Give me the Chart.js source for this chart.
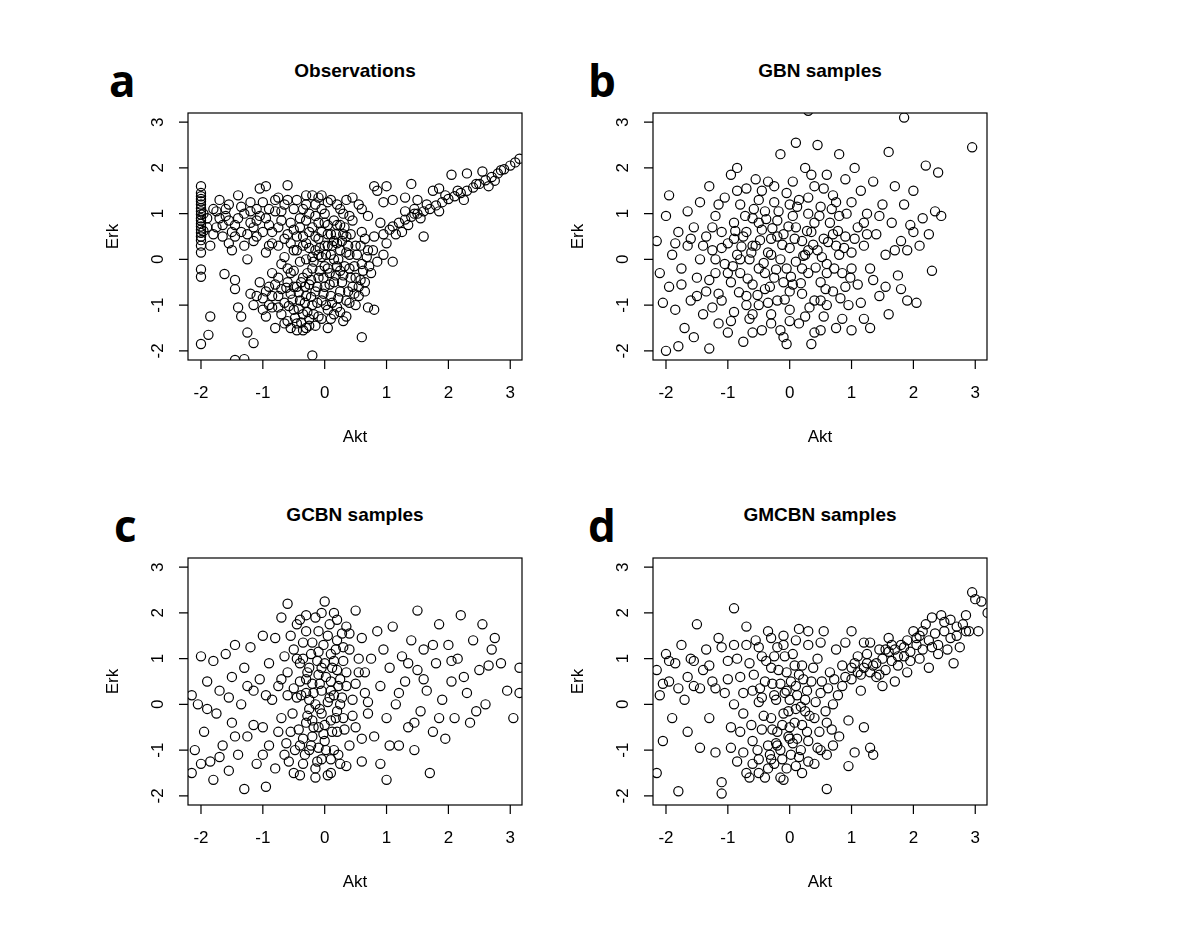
<!DOCTYPE html>
<html>
<head>
<meta charset="utf-8">
<script src="https://cdn.jsdelivr.net/npm/chart.js@4.4.1/dist/chart.umd.min.js"></script>
<style>
body { margin: 0; background: #fff; width: 1200px; height: 935px; position: relative; font-family: 'Liberation Sans', Arial, sans-serif; }
.panel { position: absolute; width: 440px; height: 420px; }
.letter { position: absolute; font-family: 'Open Sans', 'DejaVu Sans', sans-serif; font-weight: 700; font-size: 44px; line-height: 44px; }
.ttl { position: absolute; width: 334px; text-align: center; font-weight: 700; font-size: 19px; }
</style>
</head>
<body>
<div class="letter" style="left:109px;top:58px">a</div>
<div class="letter" style="left:588px;top:58px">b</div>
<div class="letter" style="left:114px;top:503px">c</div>
<div class="letter" style="left:588px;top:503px">d</div>
<div class="ttl" style="left:188px;top:60px">Observations</div>
<div class="ttl" style="left:653px;top:60px">GBN samples</div>
<div class="ttl" style="left:188px;top:504px">GCBN samples</div>
<div class="ttl" style="left:653px;top:504px">GMCBN samples</div>
<div class="panel" style="left:100px;top:50px"><canvas id="chartA"></canvas></div>
<div class="panel" style="left:565px;top:50px"><canvas id="chartB"></canvas></div>
<div class="panel" style="left:100px;top:495px"><canvas id="chartC"></canvas></div>
<div class="panel" style="left:565px;top:495px"><canvas id="chartD"></canvas></div>
<script>
const tickValues = [-2, -1, 0, 1, 2, 3];
const xLabel = 'Akt';
const yLabel = 'Erk';

// Observations (Akt, Erk)
const obsPoints = [
  [-2,1.6],[-2,1.45],[-2,1.38],[-2,1.32],[-2,1.27],[-2,1.2],[-2,1.12],[-2,1.05],[-2,0.98],[-2,0.9],[-2,0.85],[-2,0.78],[-2,0.72],[-2,0.65],[-2,0.58],[-2,0.5],[-2,0.42],[-2,0.3],[-2,0.15],[-2,-0.22],[-2,-0.38],[-2,-1.85],[-1.96,1.0],[-1.96,0.62],
  [-1.85,-1.25],[-1.88,-1.65],[-1.45,-2.2],[-1.3,-2.18],[-1.15,-1.83],[-1.25,-1.6],[-0.2,-2.1],[0.6,-1.7],[0.8,-1.1],[0.7,-1.05],[0.3,-1.35],[0.05,-1.5],[-1.62,-0.32],[-1.45,-0.45],[-1.45,-0.65],[-1.4,-1.05],[-1.35,-1.25],
  [-1.9,0.9],[-1.85,0.3],[-1.8,1.1],[-1.75,0.7],[-1.7,1.3],[-1.65,0.5],[-1.6,0.95],[-1.55,1.2],[-1.5,0.2],[-1.45,0.75],[-1.4,1.4],[-1.35,0.6],[-1.3,1.0],[-1.25,0.0],[-1.2,1.25],[-1.15,0.4],[-1.1,0.85],[-1.05,1.55],[-0.95,1.6],[-1.0,0.6],[-0.95,0.15],[-0.9,1.1],[-0.85,0.35],[-0.8,1.3],[-0.75,0.7],[-0.7,1.05],[-0.65,0.45],[-0.6,1.62],[-0.6,1.3],[-1.6,1.1],[-1.5,0.6],[-1.3,0.3],[-1.2,0.8],[-1.1,1.1],[-0.95,0.9],[-1.4,0.9],[-1.7,0.9],[-1.55,0.35],[-1.25,0.55],
  [-1.2,-0.75],[-1.15,-1.0],[-1.05,-0.5],[-1.0,-0.85],[-0.95,-1.25],[-0.9,-0.6],[-0.85,-1.05],[-0.85,-0.3],[-0.8,-1.5],[-0.75,-0.8],[-0.7,-1.2],[-0.7,-0.1],[-0.65,-0.95],[-0.6,-1.35],[-0.6,-0.5],[-0.55,-1.5],[-0.55,-0.75],[-0.5,-1.1],[-0.5,-0.25],[-0.5,0.2],[-0.45,-1.4],[-0.45,-0.6],[-0.45,0.5],[-0.4,-0.9],[-0.4,-0.05],[-0.4,0.9],[-0.35,-1.55],[-0.35,-1.2],[-0.35,-0.4],[-0.35,0.3],[-0.3,-0.8],[-0.3,0.0],[-0.3,1.2],[-0.25,-1.3],[-0.25,-0.55],[-0.25,0.6],[-0.2,-1.0],[-0.2,-0.2],[-0.2,1.4],[-0.15,-0.7],[-0.15,0.2],[-0.15,0.95],[-0.1,-1.25],[-0.1,-0.4],[-0.1,0.45],[-0.05,-0.9],[-0.05,0.05],[-0.05,1.1],[0,-0.6],[0,0.3],[0,0.8],[0.05,-1.1],[0.05,-0.2],[0.05,0.55],[0.1,-0.8],[0.1,0.1],[0.1,1.3],[0.15,-0.5],[0.15,0.4],[0.2,-1.05],[0.2,-0.15],[0.2,0.75],[0.25,-0.7],[0.25,0.2],[0.3,-0.35],[0.3,1.0],[0.35,-0.9],[0.35,0.5],[0.4,-0.2],[0.4,0.1],[0.45,-0.6],[0.45,0.85],[0.5,-0.4],[0.5,0.3],[0.55,-0.8],[0.55,1.2],[0.6,-0.1],[0.6,0.6],[0.65,-0.5],[0.7,0.2],[0.7,0.95],[0.75,-0.3],[0.8,0.5],[0.85,-0.05],[0.9,0.8],[0.95,0.1],[0.8,1.6],[0.85,1.5],[1.0,1.6],[0.95,1.25],[1.1,1.3],[1.3,1.35],[1.4,1.65],[1.5,1.3],[1.45,1.1],[1.6,0.5],[1.3,1.05],[0.45,1.35],[0.2,1.2],[-0.1,1.35],[0.6,1.1],[1.0,0.35],[1.1,-0.05],[-0.55,0.8],[-0.5,1.1],[-0.25,-1.45],[-0.05,-1.3],[0.15,-1.2],[-0.6,-0.2],[0.35,-1.25],[0.5,-1.0],
  [0.95,0.55],[1.05,0.65],[1.1,0.72],[1.2,0.8],[1.3,0.87],[1.4,0.93],[1.5,1.0],[1.6,1.05],[1.7,1.1],[1.8,1.18],[1.9,1.25],[2.0,1.32],[2.1,1.38],[2.2,1.45],[2.3,1.5],[2.4,1.57],[2.5,1.65],[2.6,1.73],[2.7,1.8],[2.8,1.88],[2.9,1.97],[3.0,2.05],[3.08,2.12],[3.15,2.2],[1.25,0.6],[1.45,1.0],[1.65,1.2],[1.85,1.05],[1.75,1.5],[1.85,1.55],[2.05,1.85],[2.3,1.88],[2.25,1.3],[2.45,1.65],[2.65,1.6],[2.75,1.72],[2.55,1.92],[1.15,0.55],[1.35,0.75],[1.55,0.9],[1.95,1.4],[2.15,1.5],[2.85,1.95]
];
// denser core of the observations
const obsCore = [
  [-0.62,-0.62],[-0.58,-1.02],[-0.52,-0.88],[-0.48,-1.28],[-0.42,-0.72],[-0.42,-1.08],[-0.38,-0.5],[-0.38,-1.38],[-0.32,-0.95],[-0.32,-0.6],[-0.28,-1.15],[-0.28,-0.3],[-0.22,-0.82],[-0.22,-0.45],[-0.18,-1.2],[-0.18,-0.05],[-0.12,-0.6],[-0.12,-0.95],[-0.08,-0.25],[-0.08,0.25],[-0.02,-0.75],[-0.02,-0.4],[0.02,-1.0],[0.02,0.1],[0.08,-0.55],[0.08,-0.3],[0.12,0.3],[0.12,-0.95],[0.18,-0.35],[0.18,0.55],[0.22,-0.85],[0.22,0.0],[0.28,-0.5],[0.28,0.4],[0.32,-0.15],[0.32,0.7],[0.38,-0.7],[0.38,0.3],[0.42,-0.4],[0.42,0.55],[0.48,-0.15],[0.48,-0.75],[0.52,0.1],[0.58,-0.45],[0.58,0.3],[0.62,-0.25],[0.65,0.45],[0.68,0.05],[0.72,-0.15],[0.78,0.2],
  [-0.65,0.05],[-0.6,0.55],[-0.55,0.35],[-0.5,0.65],[-0.45,0.2],[-0.4,0.7],[-0.35,0.5],[-0.3,0.85],[-0.3,0.35],[-0.25,1.0],[-0.25,0.25],[-0.2,0.7],[-0.2,0.05],[-0.15,0.5],[-0.1,0.8],[-0.1,0.1],[-0.05,0.6],[0.0,1.0],[0.0,-0.15],[0.05,0.75],[0.05,0.3],[0.1,0.55],[0.15,0.85],[0.15,0.0],[0.2,0.35],[0.25,0.75],[0.25,-0.25],[0.3,0.55],[0.35,0.15],[0.4,0.95],[-0.45,1.3],[-0.35,1.1],[-0.15,1.2],[0.05,1.25],[0.25,1.1],[0.35,1.3],[-0.05,1.4],[-0.3,1.4],
  [-0.8,1.05],[-0.75,0.3],[-0.7,0.85],[-0.9,0.75],[-1.05,0.95],[-1.15,0.7],[-1.2,1.05],[-1.35,1.15],[-1.45,0.5],[-1.55,0.85],[-1.65,0.75],[-1.75,1.05],[-1.8,0.55],[-1.9,0.7],[-1.0,1.25],[-0.85,0.6],[-0.65,1.2],[-0.75,1.35],[-0.9,0.3],[-1.1,0.5],
  [-0.85,-0.8],[-0.8,-0.55],[-0.75,-1.05],[-0.7,-0.65],[-0.65,-1.4],[-0.9,-1.0],[-0.95,-0.7],[-1.0,-1.1],[-1.1,-0.8],[-0.55,-0.3],[-0.75,-0.4],[-0.5,-0.6],[-0.3,-1.5],[-0.15,-1.45],[0.1,-1.3],[0.25,-1.15],[-0.45,-1.55],[0.4,-0.95],[0.55,-0.6],[0.65,-0.7]
];

// GBN samples
const gbnPoints = [
  [-2.15,0.4],[-2.1,-0.3],[-2.0,0.95],[-1.95,1.4],[-1.95,-0.6],[-1.9,0.1],[-1.85,-1.1],[-1.8,0.6],[-1.8,-1.9],[-1.75,-0.2],[-1.7,-1.5],[-1.65,1.05],[-1.65,0.3],[-1.6,-0.9],[-1.55,-1.7],[-1.55,0.7],[-1.5,-0.4],[-1.45,1.25],[-1.45,0.0],[-1.4,-1.2],[-1.35,0.5],[-1.35,-0.7],[-1.3,1.6],[-1.3,-1.95],[-1.25,0.2],[-1.2,-0.3],[-1.2,0.95],[-1.15,-1.4],[-1.1,0.6],[-1.1,-0.9],[-1.05,1.35],[-1.05,-0.1],[-1.0,-1.6],[-1.0,0.35],[-0.95,1.85],[-0.95,-0.5],[-0.9,0.8],[-0.9,-1.15],[-0.85,0.1],[-0.85,2.0],[-0.8,-0.3],[-0.8,1.2],[-0.75,-1.8],[-0.75,0.5],[-0.7,-0.8],[-0.7,1.55],[-0.65,0.0],[-0.65,-1.3],[-0.6,0.9],[-0.6,-0.55],[-0.55,1.75],[-0.55,0.3],[-0.5,-1.0],[-0.5,1.3],[-0.5,-0.2],[-0.45,0.65],[-0.45,-1.55],[-0.4,1.05],[-0.4,-0.65],[-0.35,0.15],[-0.35,1.7],[-0.3,-1.2],[-0.3,0.45],[-0.25,-0.4],[-0.25,1.25],[-0.2,0.85],[-0.2,-0.9],[-0.15,0.0],[-0.15,2.3],[-0.1,-1.7],[-0.1,0.55],[-0.05,-0.2],[-0.05,1.45],[0.0,0.25],[0.0,-1.1],[0.05,0.95],[0.05,-0.55],[0.1,2.55],[0.1,-0.05],[0.15,1.3],[0.15,-1.4],[0.2,0.4],[0.2,-0.75],[0.25,2.0],[0.25,0.1],[0.3,-0.3],[0.3,1.0],[0.35,-1.85],[0.35,0.6],[0.4,1.6],[0.4,-0.9],[0.45,0.2],[0.45,2.5],[0.5,-0.5],[0.5,1.15],[0.55,0.45],[0.55,-1.25],[0.6,1.85],[0.6,-0.1],[0.65,0.8],[0.7,-0.7],[0.7,1.4],[0.75,0.3],[0.75,-1.5],[0.8,2.3],[0.8,0.95],[0.85,-0.3],[0.9,0.5],[0.9,1.75],[0.95,-1.0],[1.0,0.15],[1.0,1.25],[1.05,2.0],[1.1,-0.55],[1.1,0.7],[1.15,1.5],[1.2,-1.3],[1.2,0.3],[1.25,1.0],[1.3,-0.2],[1.35,1.7],[1.4,0.55],[1.45,-0.8],[1.5,1.2],[1.55,0.1],[1.6,2.35],[1.6,-1.2],[1.65,0.8],[1.7,1.6],[1.75,-0.35],[1.8,0.4],[1.85,3.1],[1.85,1.2],[1.9,-0.9],[1.95,0.75],[2.0,1.5],[2.05,-0.95],[2.1,0.3],[2.15,0.9],[2.2,2.05],[2.3,-0.25],[2.35,1.05],[2.4,1.9],[2.45,0.95],[2.95,2.45],[0.3,3.25],[-2.0,-2.0],[-0.05,-1.85],[-0.6,-1.6],[0.5,-1.55],[1.3,-1.5],
  [-0.3,0.1],[-0.1,-0.5],[0.1,0.7],[0.3,0.2],[-0.6,0.3],[0.6,-0.3],[-0.2,0.5],[0.2,-0.2],[-0.4,-0.3],[0.4,0.8],[-0.8,0.0],[0.8,0.1],[0.0,-0.7],[0.0,1.2],[-1.0,-0.3],[1.0,-0.2],[-0.5,0.8],[0.5,-0.9],[-0.7,-1.0],[0.7,0.55],[-1.2,0.0],[1.2,0.8],[-0.3,-1.4],[0.3,1.35],[-0.9,0.45],[0.9,-0.6]
];
const gbnCore = [
  [-0.92,-0.15],[-0.88,0.62],[-0.82,-0.72],[-0.78,0.28],[-0.72,0.95],[-0.68,-0.42],[-0.62,0.15],[-0.58,1.1],[-0.52,-0.78],[-0.48,0.42],[-0.42,-0.08],[-0.38,0.88],[-0.32,-0.6],[-0.28,0.68],[-0.22,-0.22],[-0.18,1.05],[-0.12,0.32],[-0.08,-0.88],[-0.02,0.72],[0.02,-0.38],[0.08,0.45],[0.12,1.15],[0.18,-0.52],[0.22,0.08],[0.28,0.62],[0.32,-1.05],[0.38,0.32],[0.42,-0.18],[0.48,0.95],[0.52,0.05],[0.58,-0.65],[0.62,0.38],[0.68,1.1],[0.72,-0.2],[0.78,0.62],[0.82,-0.85],[0.88,0.25],[0.92,1.0],[0.98,-0.4],[1.05,0.45],
  [-1.3,-0.45],[-1.25,0.7],[-1.15,-0.75],[-1.1,0.25],[-1.4,0.3],[-1.5,-0.8],[-1.6,0.45],[-1.75,-0.55],[-1.85,0.35],[-2.05,-0.95],[1.15,-0.95],[1.25,0.55],[1.35,-0.45],[1.45,0.95],[1.55,-0.6],[1.7,0.2],[1.8,-0.65],[1.9,0.2],[2.0,0.6],[2.25,0.55],
  [-0.7,0.6],[-0.45,1.5],[-0.25,1.6],[0.05,1.7],[0.35,1.85],[0.55,1.55],[0.75,1.25],[-0.85,1.5],[-1.15,1.2],[-0.6,-1.2],[-0.35,-0.95],[0.0,-1.35],[0.25,-1.25],[0.6,-1.0],[0.85,-1.3],[-0.95,-1.35],[-1.25,-1.05],[-0.15,-1.55],[0.4,-1.6],[1.0,-1.55]
];

// GCBN samples
const gcbnPoints = [
  [-2.15,0.2],[-2.15,-1.5],[-2.1,-1.0],[-2.05,0.0],[-2.0,1.05],[-1.95,-0.6],[-1.9,0.5],[-1.85,-1.25],[-1.8,-1.65],[-1.8,0.95],[-1.75,-0.2],[-1.7,0.3],[-1.65,-0.9],[-1.6,1.1],[-1.55,-1.45],[-1.5,0.6],[-1.5,-0.4],[-1.45,1.3],[-1.4,-1.1],[-1.35,0.0],[-1.3,0.8],[-1.3,-1.85],[-1.25,-0.7],[-1.2,1.25],[-1.15,0.3],[-1.1,-1.3],[-1.05,0.55],[-1.0,-0.5],[-1.0,1.5],[-0.95,-1.8],[-0.9,0.9],[-0.9,-0.9],[-0.85,0.1],[-0.8,1.45],[-0.8,-1.4],[-0.75,0.4],[-0.7,-0.3],[-0.7,1.9],[-0.65,-1.1],[-0.6,2.2],[-0.6,0.7],[-0.55,-0.6],[-0.5,1.2],[-0.5,-1.5],[-0.45,0.15],[-0.45,1.75],[-0.4,-0.9],[-0.4,0.5],[-0.35,-1.3],[-0.35,1.0],[-0.3,-0.4],[-0.3,1.6],[-0.3,0.25],[-0.25,-1.0],[-0.25,0.8],[-0.25,-0.1],[-0.2,1.35],[-0.2,-0.7],[-0.2,0.45],[-0.15,-1.4],[-0.15,0.0],[-0.15,1.9],[-0.1,-0.5],[-0.1,0.65],[-0.1,1.15],[-0.05,-1.2],[-0.05,0.3],[-0.05,-0.2],[0.0,2.25],[0.0,0.9],[0.0,-0.8],[0.05,0.05],[0.05,1.5],[0.05,-1.55],[0.1,0.5],[0.1,-0.35],[0.1,1.1],[0.15,-1.0],[0.15,2.0],[0.15,0.2],[0.2,-0.6],[0.2,0.75],[0.2,1.4],[0.25,-1.3],[0.25,0.0],[0.3,0.95],[0.3,-0.3],[0.35,1.7],[0.35,0.4],[0.4,-0.9],[0.4,1.2],[0.45,0.1],[0.5,-0.5],[0.5,2.05],[0.55,0.7],[0.6,-1.25],[0.6,1.45],[0.65,0.25],[0.7,-0.2],[0.75,1.0],[0.8,-0.7],[0.85,1.6],[0.9,0.4],[0.9,-1.3],[0.95,1.2],[1.0,-0.3],[1.0,-1.65],[1.05,0.8],[1.1,1.7],[1.15,0.0],[1.2,-0.9],[1.25,1.05],[1.3,0.5],[1.35,-0.5],[1.4,1.4],[1.45,-1.0],[1.5,0.75],[1.5,2.05],[1.55,-0.15],[1.6,1.2],[1.65,0.3],[1.7,-1.5],[1.75,-0.6],[1.8,0.9],[1.85,1.75],[1.9,0.1],[1.95,-0.75],[2.0,1.3],[2.05,0.5],[2.1,-0.3],[2.15,1.0],[2.2,1.95],[2.3,0.25],[2.35,-0.4],[2.4,1.4],[2.5,0.75],[2.55,1.75],[2.6,0.0],[2.7,1.2],[2.75,1.45],[2.85,0.9],[2.95,0.3],[3.05,-0.3],[3.15,0.8],[3.15,0.25],
  [-0.35,-0.75],[-0.1,-0.95],[0.1,-1.2],[-0.3,0.55],[0.25,0.55],[-0.05,0.8],[0.1,0.3],[-0.2,-0.35],[0.2,-0.15],[-0.4,0.9],[0.3,1.25],[-0.1,1.6],[0.0,-0.45],[-0.25,0.1],[0.15,0.95]
];
const gcbnCore = [
  [-0.42,-0.55],[-0.38,0.2],[-0.35,1.35],[-0.32,-1.1],[-0.28,0.7],[-0.28,-0.25],[-0.22,1.1],[-0.22,-0.9],[-0.18,0.25],[-0.18,-0.5],[-0.12,0.95],[-0.12,-1.25],[-0.08,0.45],[-0.08,-0.1],[-0.02,1.3],[-0.02,-0.65],[0.02,0.6],[0.02,-1.0],[0.08,1.75],[0.08,0.15],[0.12,-0.6],[0.12,0.8],[0.18,1.2],[0.18,-0.3],[0.22,0.4],[0.22,-1.1],[0.28,1.55],[0.28,0.15],[0.32,-0.55],[0.35,0.7],[-0.5,0.35],[-0.48,-1.0],[-0.45,1.0],[-0.55,1.5],[-0.52,-0.2],[-0.4,1.85],[-0.3,1.95],[-0.05,2.0],[0.2,1.85],[0.4,1.55],
  [-0.62,-0.85],[-0.6,0.2],[-0.65,1.05],[-0.58,-1.25],[-0.7,0.55],[-0.75,-0.6],[0.45,-0.25],[0.5,0.45],[0.55,1.0],[0.6,-0.75],[0.65,0.7],[0.7,0.05],[-0.15,-1.6],[0.1,-1.5],[0.35,-1.35],[-0.4,-1.55],
  [-1.15,-0.45],[-1.25,0.4],[-1.45,-0.7],[-1.55,0.15],[-1.7,-1.15],[-1.9,-0.1],[-2.0,-1.3],[-1.0,-1.1],[-0.95,0.2],[1.05,-0.9],[1.2,0.25],[1.35,0.9],[1.45,-0.4],[1.6,0.55],[1.75,1.3],[1.85,-0.3],[2.05,0.95],[2.25,0.6],[2.45,-0.15],[2.65,0.85]
];

// GMCBN samples
const gmcbnPoints = [
  [-2.15,0.75],[-2.15,-1.5],[-2.1,0.2],[-2.05,-0.8],[-2.0,1.1],[-1.95,0.5],[-1.9,-0.3],[-1.85,0.9],[-1.8,-1.9],[-1.75,1.3],[-1.7,0.1],[-1.65,-0.6],[-1.6,1.0],[-1.55,0.4],[-1.5,1.75],[-1.45,-0.95],[-1.4,0.75],[-1.35,1.2],[-1.3,-0.3],[-1.25,0.5],[-1.2,-1.05],[-1.15,1.45],[-1.1,-1.7],[-1.1,-1.95],[-1.05,0.25],[-1.0,0.95],[-0.95,-0.5],[-0.9,2.1],[-0.9,1.3],[-0.85,-1.25],[-0.8,0.6],[-0.75,-0.2],[-0.7,1.7],[-0.7,-1.5],[-0.65,0.9],[-0.6,-0.8],[-0.6,0.3],[-0.55,1.4],[-0.5,-1.2],[-0.5,0.05],[-0.45,-0.55],[-0.45,1.05],[-0.4,-1.6],[-0.4,0.5],[-0.35,-0.9],[-0.35,1.6],[-0.3,-0.3],[-0.3,0.8],[-0.25,-1.3],[-0.25,0.2],[-0.2,-0.6],[-0.2,1.25],[-0.15,-1.0],[-0.15,0.45],[-0.1,-0.2],[-0.1,1.5],[-0.05,-1.4],[-0.05,0.7],[0.0,-0.5],[0.0,0.1],[0.05,-0.85],[0.05,1.1],[0.1,-0.1],[0.1,0.4],[0.15,-1.15],[0.15,1.65],[0.2,-0.45],[0.2,0.85],[0.25,0.1],[0.3,-0.8],[0.3,1.3],[0.35,0.5],[0.4,-0.3],[0.45,1.0],[0.5,-1.0],[0.5,0.25],[0.55,1.6],[0.6,-0.4],[0.65,0.7],[0.7,0.0],[0.75,1.2],[0.8,-0.7],[0.85,0.4],[0.9,1.35],[0.95,-0.35],[1.0,0.8],[1.05,-1.05],[1.1,1.05],[1.15,0.3],[1.2,-0.5],[1.25,0.9],[1.3,-0.95],[1.35,-1.1],[1.4,0.6],[1.45,1.2],
  [0.9,0.6],[1.0,0.55],[1.1,0.7],[1.2,0.8],[1.3,0.7],[1.4,0.9],[1.5,1.0],[1.55,0.75],[1.6,1.15],[1.65,0.95],[1.7,1.2],[1.75,0.85],[1.8,1.3],[1.85,1.05],[1.9,1.4],[1.95,1.15],[2.0,1.6],[2.05,1.3],[2.1,1.5],[2.15,1.2],[2.2,1.75],[2.25,1.4],[2.3,1.9],[2.35,1.55],[2.4,1.3],[2.45,1.95],[2.5,1.6],[2.55,1.2],[2.6,1.85],[2.65,0.9],[2.7,1.5],[2.75,1.25],[2.8,1.75],[2.85,1.95],[2.9,1.6],[2.95,2.45],[3.0,2.3],[3.05,1.6],[3.1,2.25],[3.2,2.0],[1.3,1.35],[1.5,0.4],[1.7,0.5],[1.9,0.7],[2.1,1.0],[2.4,1.1],[1.0,1.6],[1.2,1.35],[1.6,1.45],[2.25,0.8],
  [-0.3,-1.2],[0.1,-1.35],[-0.2,-0.9],[0.0,-0.75],[0.2,-1.5],[-0.15,-1.6],[0.4,-1.3],[0.6,-1.1],[0.95,-1.35],[0.6,-1.85],[-0.6,-1.3],[-0.45,0.15],[0.25,-0.15],[-0.05,0.3],[0.15,0.65],[-0.25,1.05]
];
const gmcbnCore = [
  [-0.62,-0.45],[-0.58,0.65],[-0.52,-1.0],[-0.48,0.35],[-0.42,-0.25],[-0.38,0.95],[-0.32,-1.1],[-0.28,-0.55],[-0.28,0.45],[-0.22,-0.85],[-0.22,0.1],[-0.18,0.75],[-0.12,-0.45],[-0.12,-1.2],[-0.08,0.25],[-0.08,1.05],[-0.02,-0.7],[-0.02,-0.15],[0.02,0.5],[0.02,-1.1],[0.08,-0.4],[0.08,0.85],[0.12,-0.75],[0.12,0.2],[0.18,-0.05],[0.18,-1.0],[0.22,0.55],[0.28,-0.6],[0.28,0.3],[0.32,-0.25],[0.38,0.8],[0.42,0.05],[0.48,-0.6],[0.52,0.5],[0.58,-0.15],[0.62,0.35],[0.68,-0.55],[0.72,0.55],[0.78,0.2],[0.85,0.85],
  [-0.75,0.25],[-0.8,-0.6],[-0.85,1.0],[-0.9,0.0],[-1.0,0.55],[-1.1,1.25],[-1.2,0.35],[-1.3,0.85],[-1.45,0.35],[-1.55,0.95],[-1.65,0.6],[-1.8,0.35],[-1.95,0.95],[-2.05,0.45],[-0.7,1.3],[-0.5,1.25],[-0.3,1.45],[-0.1,1.3],[0.1,1.4],[0.3,1.6],[0.5,1.35],[-0.95,-0.95],[-0.75,-1.05],[-0.65,-1.6],[-0.5,-1.5],[-0.35,-1.4],[-0.1,-1.65],[0.3,-1.25],[0.45,-0.95],[0.7,-0.9],
  [1.05,0.9],[1.15,0.65],[1.25,1.1],[1.35,0.85],[1.45,0.65],[1.55,1.2],[1.65,1.3],[1.75,1.05],[1.85,1.25],[1.95,0.95],[2.05,1.45],[2.15,1.6],[2.3,1.25],[2.5,1.8],[2.6,1.45],[2.7,1.7],[2.85,1.6]
];

const boxPlugin = {
  id: 'rbox',
  afterDraw(chart) {
    const { ctx, chartArea: a, scales } = chart;
    const x = scales.x, y = scales.y;
    ctx.save();
    ctx.strokeStyle = '#000';
    ctx.lineWidth = 1.2;
    ctx.strokeRect(a.left, a.top, a.right - a.left, a.bottom - a.top);
    ctx.fillStyle = '#000';
    ctx.font = '17px "Liberation Sans", Arial, sans-serif';
    ctx.beginPath();
    tickValues.forEach(v => {
      const px = x.getPixelForValue(v);
      ctx.moveTo(px, a.bottom); ctx.lineTo(px, a.bottom + 9);
      const py = y.getPixelForValue(v);
      ctx.moveTo(a.left, py); ctx.lineTo(a.left - 9, py);
    });
    ctx.stroke();
    ctx.textAlign = 'center';
    ctx.textBaseline = 'middle';
    tickValues.forEach(v => {
      ctx.fillText(String(v), x.getPixelForValue(v), a.bottom + 33);
      ctx.save();
      ctx.translate(a.left - 30, y.getPixelForValue(v));
      ctx.rotate(-Math.PI / 2);
      ctx.fillText(String(v), 0, 0);
      ctx.restore();
    });
    ctx.fillText(xLabel, (a.left + a.right) / 2, a.bottom + 77);
    ctx.save();
    ctx.translate(a.left - 75, (a.top + a.bottom) / 2);
    ctx.rotate(-Math.PI / 2);
    ctx.fillText(yLabel, 0, 0);
    ctx.restore();
    ctx.restore();
  }
};

function makePanel(canvasId, points) {
  const ctx = document.getElementById(canvasId);
  return new Chart(ctx, {
    type: 'scatter',
    data: {
      datasets: [{
        data: points.map(p => ({ x: p[0], y: p[1] })),
        pointStyle: 'circle',
        pointRadius: 4.6,
        borderColor: '#000',
        borderWidth: 1.2,
        backgroundColor: 'rgba(0,0,0,0)'
      }]
    },
    options: {
      responsive: true,
      maintainAspectRatio: false,
      animation: false,
      clip: { left: 0, right: 0, top: 0, bottom: 0 },
      layout: { padding: { top: 63, right: 18, left: 0, bottom: 0 } },
      plugins: { legend: { display: false }, tooltip: { enabled: false } },
      scales: {
        x: {
          type: 'linear', min: -2.21, max: 3.19,
          ticks: { display: false },
          grid: { display: false },
          border: { display: false },
          afterFit: s => { s.height = 110; }
        },
        y: {
          type: 'linear', min: -2.2, max: 3.2,
          ticks: { display: false },
          grid: { display: false },
          border: { display: false },
          afterFit: s => { s.width = 88; }
        }
      }
    },
    plugins: [boxPlugin]
  });
}

makePanel('chartA', obsPoints.concat(obsCore));
makePanel('chartB', gbnPoints.concat(gbnCore));
makePanel('chartC', gcbnPoints.concat(gcbnCore));
makePanel('chartD', gmcbnPoints.concat(gmcbnCore));
</script>
</body>
</html>
